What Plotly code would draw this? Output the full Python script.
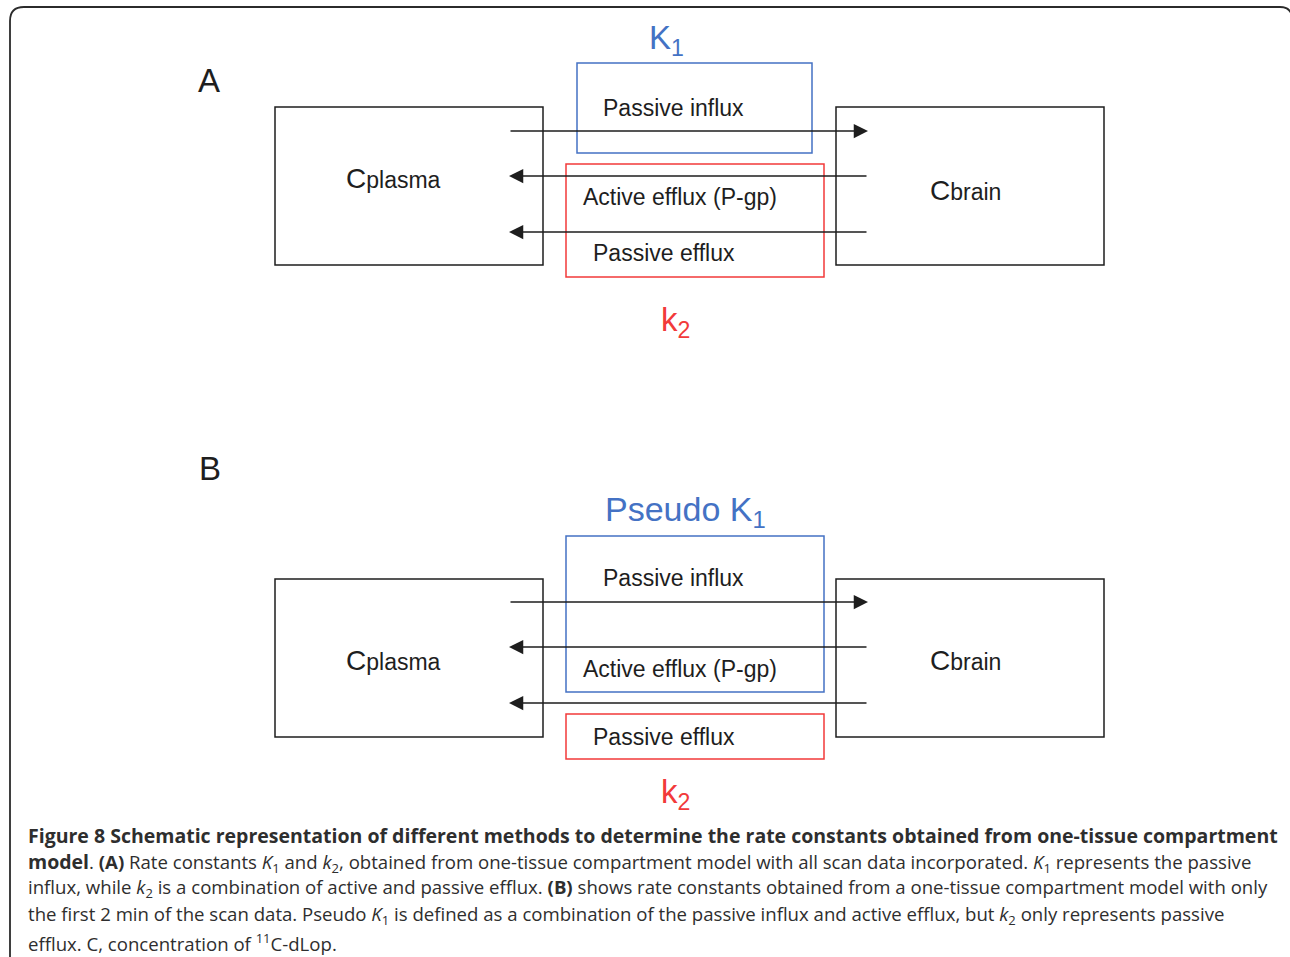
"""
Schematic of the one-tissue compartment model (Figure 8): rate constants
K1 and k2 drawn as coloured boxes over the influx / efflux arrows.
"""
import plotly.graph_objects as go

W, H = 1290, 957

DIAGRAM_FONT = "Liberation Sans, Arial, sans-serif"
CAPTION_FONT = "Open Sans, Noto Sans, sans-serif"
INK = "#1e1e1e"
BLUE = "#4472c4"
RED = "#f23a3a"

# ---- diagram content -------------------------------------------------------
panel_labels = ["A", "B"]
panel_label_x = [209, 210]
panel_label_y = [80, 468]

# compartments (plasma / brain) for panel A then panel B
comp_labels = ["plasma", "brain", "plasma", "brain"]
comp_x0 = [275, 836, 275, 836]
comp_x1 = [543, 1104, 543, 1104]
comp_y0 = [107, 107, 579, 579]
comp_y1 = [265, 265, 737, 737]
comp_text_x = [393, 965, 393, 965]
comp_text_y = [178, 190, 660, 660]

# transport arrows: +1 = plasma -> brain, -1 = brain -> plasma
arrow_dir = [1, -1, -1, 1, -1, -1]
arrow_y = [131, 176, 232, 602, 647, 703]
arrow_left = 509
arrow_right = 868

# rate-constant boxes
rate_box_color = [BLUE, RED, BLUE, RED]
rate_box_x0 = [577, 566, 566, 566]
rate_box_x1 = [812, 824, 824, 824]
rate_box_y0 = [63, 164, 536, 714]
rate_box_y1 = [153, 277, 692, 759]

rate_labels = ["K<sub>1</sub>", "k<sub>2</sub>", "Pseudo K<sub>1</sub>", "k<sub>2</sub>"]
rate_label_color = [BLUE, RED, BLUE, RED]
rate_label_x = [666, 675, 685, 675]
rate_label_y = [40, 322, 511, 794]
rate_label_size = [33, 33, 34, 33]

process_labels = ["Passive influx", "Active efflux (P-gp)", "Passive efflux",
                  "Passive influx", "Active efflux (P-gp)", "Passive efflux"]
process_x = [673, 680, 664, 673, 680, 664]
process_y = [108, 197, 253, 578, 669, 737]

caption_lines = [
    "<span style='font-size:19.5px'><b>Figure 8 Schematic representation of "
    "different methods to determine the rate constants obtained from "
    "one-tissue compartment</b></span>",
    "<span style='font-size:19.5px'><b>model</b></span>. <b>(A)</b> Rate "
    "constants <i>K</i><sub>1</sub> and <i>k</i><sub>2</sub>, obtained from "
    "one-tissue compartment model with all scan data incorporated. "
    "<i>K</i><sub>1</sub> represents the passive",
    "influx, while <i>k</i><sub>2</sub> is a combination of active and passive "
    "efflux. <b>(B)</b> shows rate constants obtained from a one-tissue "
    "compartment model with only",
    "the first 2 min of the scan data. Pseudo <i>K</i><sub>1</sub> is defined "
    "as a combination of the passive influx and active efflux, but "
    "<i>k</i><sub>2</sub> only represents passive",
    "efflux. C, concentration of <sup>11</sup>C-dLop.",
]
caption_y = [835, 862, 888, 915, 942]

# ---- figure ----------------------------------------------------------------
fig = go.Figure()
shapes = []
annotations = []

# outer frame with rounded top corners, open at the bottom; right side runs
# just past the page edge like in the source scan
shapes.append(dict(
    type="path",
    path="M 10 960 L 10 21 Q 10 7 24 7 L 1280 7 Q 1292 7 1292 19 L 1292 960",
    line=dict(color="#2b2b2b", width=1.8),
))

for x0, x1, y0, y1 in zip(comp_x0, comp_x1, comp_y0, comp_y1):
    shapes.append(dict(type="rect", x0=x0, x1=x1, y0=y0, y1=y1,
                       line=dict(color=INK, width=1.5)))

for c, x0, x1, y0, y1 in zip(rate_box_color, rate_box_x0, rate_box_x1,
                             rate_box_y0, rate_box_y1):
    shapes.append(dict(type="rect", x0=x0, x1=x1, y0=y0, y1=y1,
                       line=dict(color=c, width=1.5)))

for d, y in zip(arrow_dir, arrow_y):
    head, tail = (arrow_right, arrow_left) if d > 0 else (arrow_left, arrow_right)
    annotations.append(dict(
        x=head, y=y, ax=tail, ay=y, xref="x", yref="y", axref="x", ayref="y",
        text="", showarrow=True, arrowhead=2, arrowsize=1.9, arrowwidth=1.5,
        arrowcolor=INK, standoff=0, startstandoff=0,
    ))

for lab, x, y in zip(panel_labels, panel_label_x, panel_label_y):
    annotations.append(dict(x=x, y=y, text=lab, showarrow=False,
                            font=dict(family=DIAGRAM_FONT, size=33, color=INK)))

for lab, x, y in zip(comp_labels, comp_text_x, comp_text_y):
    annotations.append(dict(
        x=x, y=y, showarrow=False,
        text=f"<span style='font-size:28px'>C</span>{lab}",
        font=dict(family=DIAGRAM_FONT, size=23, color=INK)))

for lab, x, y in zip(process_labels, process_x, process_y):
    annotations.append(dict(x=x, y=y, text=lab, showarrow=False,
                            font=dict(family=DIAGRAM_FONT, size=23, color=INK)))

for lab, c, x, y, s in zip(rate_labels, rate_label_color, rate_label_x,
                           rate_label_y, rate_label_size):
    annotations.append(dict(x=x, y=y, text=lab, showarrow=False,
                            font=dict(family=DIAGRAM_FONT, size=s, color=c)))

for line, y in zip(caption_lines, caption_y):
    annotations.append(dict(x=26, y=y, text=line, showarrow=False,
                            xanchor="left", yanchor="middle",
                            font=dict(family=CAPTION_FONT, size=18.6,
                                      color="#2e2e2e")))

for a in annotations:
    a.setdefault("xref", "x")
    a.setdefault("yref", "y")

fig.update_layout(
    width=W, height=H,
    margin=dict(l=0, r=0, t=0, b=0),
    paper_bgcolor="white", plot_bgcolor="white",
    shapes=shapes, annotations=annotations,
    showlegend=False,
)
fig.update_xaxes(range=[0, W], visible=False, fixedrange=True)
fig.update_yaxes(range=[H, 0], visible=False, fixedrange=True)

# page body margin would shift the 1290x957 figure off the window
fig.write_html("out.html",
               config={"displayModeBar": False},
               post_script="document.body.style.margin='0';"
                           "document.body.style.overflow='hidden';")
